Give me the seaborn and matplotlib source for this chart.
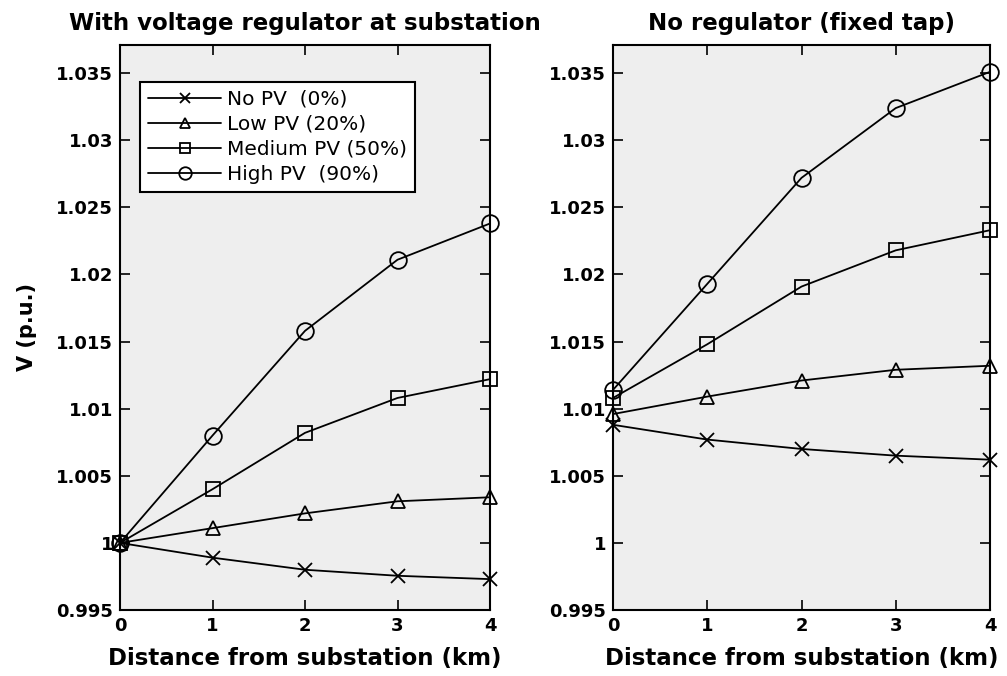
import numpy as np
import pandas as pd
import matplotlib
matplotlib.use("Agg")
import matplotlib.pyplot as plt
import seaborn as sns

# ---- data ----
distance_km = [0, 1, 2, 3, 4]
series_labels = ["No PV  (0%)", "Low PV (20%)", "Medium PV (50%)", "High PV  (90%)"]
series_markers = ["x", "^", "s", "o"]

reg_no_pv = [1.0000, 0.9989, 0.9980, 0.99755, 0.9973]
reg_low_pv = [1.0000, 1.0011, 1.0022, 1.0031, 1.0034]
reg_med_pv = [1.0000, 1.0040, 1.0082, 1.0108, 1.0122]
reg_high_pv = [1.0000, 1.0080, 1.0158, 1.0211, 1.0238]

fix_no_pv = [1.0088, 1.0077, 1.0070, 1.0065, 1.0062]
fix_low_pv = [1.0096, 1.0109, 1.0121, 1.0129, 1.0132]
fix_med_pv = [1.0108, 1.0148, 1.0191, 1.0218, 1.0233]
fix_high_pv = [1.0114, 1.0193, 1.0272, 1.0324, 1.0351]

panel_titles = ["With voltage regulator at substation", "No regulator (fixed tap)"]
x_label = "Distance from substation (km)"
y_label = "V (p.u.)"
y_ticks = [0.995, 1.0, 1.005, 1.01, 1.015, 1.02, 1.025, 1.03, 1.035]
y_tick_labels = ["0.995", "1", "1.005", "1.01", "1.015", "1.02", "1.025", "1.03", "1.035"]

sns.set_style("white")
plt.rcParams["font.family"] = ["DejaVu Sans"]
plt.rcParams["text.color"] = "black"
plt.rcParams["axes.labelcolor"] = "black"

fig = plt.figure(figsize=(10.07, 6.76), dpi=100)
ax_left = fig.add_axes([120 / 1007, 1 - 610 / 676, 370 / 1007, 565 / 676])
ax_right = fig.add_axes([613 / 1007, 1 - 610 / 676, 377 / 1007, 565 / 676])

panels = [
    (ax_left, [reg_no_pv, reg_low_pv, reg_med_pv, reg_high_pv]),
    (ax_right, [fix_no_pv, fix_low_pv, fix_med_pv, fix_high_pv]),
]

msizes = {"x": 10, "^": 10, "s": 10, "o": 12}

for i, (ax, data) in enumerate(panels):
    ax.set_facecolor("#eeeeee")
    for vals, lab, mk in zip(data, series_labels, series_markers):
        df = pd.DataFrame({"d": distance_km, "v": vals})
        sns.lineplot(data=df, x="d", y="v", ax=ax, color="black", linewidth=1.3,
                     marker=mk, markersize=msizes[mk], markerfacecolor="none",
                     markeredgecolor="black", markeredgewidth=1.3,
                     label=lab, clip_on=False, zorder=3)
    ax.set_xlim(0, 4)
    ax.set_ylim(0.995, 1.0371)
    ax.set_xticks(distance_km)
    ax.set_xticklabels([str(d) for d in distance_km], fontsize=13, fontweight="bold")
    ax.set_yticks(y_ticks)
    ax.set_yticklabels(y_tick_labels, fontsize=13, fontweight="bold")
    ax.tick_params(direction="in", length=7, width=1.2, top=True, right=True,
                   bottom=True, left=True, colors="black", pad=5)
    for sp in ax.spines.values():
        sp.set_visible(True)
        sp.set_color("black")
        sp.set_linewidth(1.5)
    ax.set_title(panel_titles[i], fontsize=16.5, fontweight="bold", pad=11, color="black")
    ax.set_xlabel(x_label, fontsize=16.5, fontweight="bold", labelpad=9, color="black")
    if i == 0:
        ax.set_ylabel(y_label, fontsize=15, fontweight="bold", labelpad=14, color="black")
        leg = ax.legend(loc="upper left", bbox_to_anchor=(0.055, 0.935), frameon=True,
                        fontsize=14.5, handlelength=3.6, markerscale=0.75,
                        fancybox=False, borderpad=0.4, labelspacing=0.3,
                        handletextpad=0.3, borderaxespad=0)
        for t in leg.get_texts():
            t.set_color("black")
        leg.get_frame().set_edgecolor("black")
        leg.get_frame().set_linewidth(1.5)
        leg.get_frame().set_facecolor("white")
        leg.get_frame().set_alpha(1)
    else:
        ax.set_ylabel("")
        lg = ax.get_legend()
        if lg is not None:
            lg.remove()

fig.savefig("out.png", dpi=100, facecolor="white")
